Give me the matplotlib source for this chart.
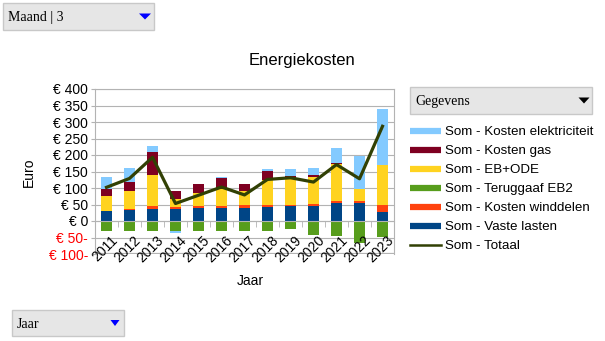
import numpy as np
import matplotlib
matplotlib.use('Agg')
from matplotlib import pyplot as plt
from matplotlib.lines import Line2D
from matplotlib.patches import Rectangle, Polygon
from matplotlib.ticker import FixedLocator

plt.rcParams['font.family'] = ['Liberation Sans', 'DejaVu Sans']

# gegevens per jaar
jaren = ['2011', '2012', '2013', '2014', '2015', '2016', '2017',
         '2018', '2019', '2020', '2021', '2022', '2023']
vaste_lasten = [29, 34, 37, 36, 39, 39, 39, 43, 44, 46, 55, 55, 27]
kosten_winddelen = [2, 2, 7, 6, 7, 7, 8, 7, 6, 7, 7, 7, 20]
eb_ode = [46, 54, 95, 26, 40, 50, 44, 74, 76, 80, 111, 34, 123]
teruggaaf_eb2 = [-30, -30, -30, -30, -30, -30, -30, -30, -24, -42, -44, -66, -48]
kosten_gas = [20, 27, 70, 23, 26, 33, 20, 29, 9, 5, 4, 0, 0]
kosten_elektriciteit = [36, 45, 18, -6, 0, 5, 0, 5, 23, 24, 43, 101, 170]
totaal = [102, 129, 193, 53, 78, 103, 79, 126, 131, 118, 171, 128, 287]

y_ticks = [-100, -50, 0, 50, 100, 150, 200, 250, 300, 350, 400]

# series van onder naar boven (LibreOffice volgorde)
series = [
    ('Som - Vaste lasten', vaste_lasten, '#004586'),
    ('Som - Kosten winddelen', kosten_winddelen, '#ff420e'),
    ('Som - EB+ODE', eb_ode, '#ffd320'),
    ('Som - Teruggaaf EB2', teruggaaf_eb2, '#579d1c'),
    ('Som - Kosten gas', kosten_gas, '#7e0021'),
    ('Som - Kosten elektriciteit', kosten_elektriciteit, '#83caff'),
]
lijn_kleur = '#314004'
grijs = '#b3b3b3'

W, H = 605, 341
fig = plt.figure(figsize=(W / 100, H / 100), dpi=100)


def px(x, y):
    # pixel (links-boven) naar figuurcoordinaten
    return x / W, 1 - y / H


ax = fig.add_axes([95 / W, 1 - 254 / H, 299 / W, 165 / H])
x = np.arange(len(jaren))

pos = np.zeros(len(jaren))
neg = np.zeros(len(jaren))
for naam, waarden, kleur in series:
    v = np.array(waarden, dtype=float)
    onder = np.where(v >= 0, pos, neg)
    ax.bar(x, v, 0.5, bottom=onder, color=kleur, zorder=2)
    pos = pos + np.where(v >= 0, v, 0)
    neg = neg + np.where(v < 0, v, 0)

ax.plot(x, totaal, color=lijn_kleur, lw=2.3, zorder=3)

ax.set_xlim(-0.5, len(jaren) - 0.5)
ax.set_ylim(-100, 400)
ax.set_yticks(y_ticks)
labels = ['€ %d-' % -t if t < 0 else '€ %d' % t for t in y_ticks]
ax.set_yticklabels(labels, fontsize=10)
for lab, t in zip(ax.get_yticklabels(), y_ticks):
    lab.set_color('red' if t < 0 else 'black')
ax.grid(axis='y', color=grijs, lw=0.8, zorder=0)
ax.tick_params(axis='y', length=3, color=grijs, pad=2)

for s in ax.spines.values():
    s.set_color(grijs)
    s.set_linewidth(0.8)
ax.spines['bottom'].set_position(('data', 0))
ax.axhline(-100, color=grijs, lw=1.6, zorder=1)

ax.set_xticks(x)
ax.set_xticklabels([])
ax.tick_params(axis='x', which='major', length=0)
ax.xaxis.set_minor_locator(FixedLocator(x[:-1] + 0.5))
ax.tick_params(axis='x', which='minor', length=4, color=grijs, direction='out')
for i, j in enumerate(jaren):
    ax.annotate(j, xy=(i, 0), xytext=(4, -12), textcoords='offset pixels',
                rotation=45, ha='right', va='top', rotation_mode='anchor',
                fontsize=10, annotation_clip=False)

fig.text(*px(302, 61), 'Energiekosten', fontsize=12, ha='center', va='center')
fig.text(*px(29, 172), 'Euro', fontsize=10, rotation=90, ha='center', va='center')
fig.text(*px(250, 281), 'Jaar', fontsize=10, ha='center', va='center')

# legenda
handles = [Line2D([], [], color=k, lw=4.5, solid_capstyle='butt') for _, _, k in series[::-1]]
namen = [n for n, _, _ in series[::-1]]
volgorde = [0, 1, 3, 2, 4, 5]
handles = [handles[i] for i in volgorde] + [Line2D([], [], color=lijn_kleur, lw=1.8)]
namen = [namen[i] for i in volgorde] + ['Som - Totaal']
fig.legend(handles, namen, loc='upper left', bbox_to_anchor=px(410, 126),
           frameon=False, fontsize=9.6, borderpad=0, borderaxespad=0,
           handlelength=2.3, handletextpad=0.35, labelspacing=0.5)


# keuzelijsten
def keuzelijst(x0, y0, x1, y1, tekst, pijl, pijl_x, pijl_b):
    fx0, fy1 = px(x0, y1)
    fig.patches.append(Rectangle((fx0, fy1), (x1 - x0) / W, (y1 - y0) / H,
                                 transform=fig.transFigure, facecolor='#e6e6e6',
                                 edgecolor='#c8c8c8', lw=1))
    fig.text(*px(x0 + 5, (y0 + y1) / 2 + 1), tekst, fontsize=10, va='center',
             family=['Liberation Serif', 'DejaVu Serif'])
    ym = (y0 + y1) / 2
    punten = [px(pijl_x - pijl_b / 2, ym - 3), px(pijl_x + pijl_b / 2, ym - 3),
              px(pijl_x, ym + 3)]
    fig.patches.append(Polygon(punten, closed=True, transform=fig.transFigure,
                               facecolor=pijl, edgecolor='none'))


keuzelijst(3, 3, 154, 30, 'Maand | 3', '#0000ff', 145, 12)
keuzelijst(410, 87, 592, 114, 'Gegevens', 'black', 584, 11)
keuzelijst(12, 310, 124, 336, 'Jaar', '#0000ff', 115, 9)

fig.savefig('out.png', dpi=100)
